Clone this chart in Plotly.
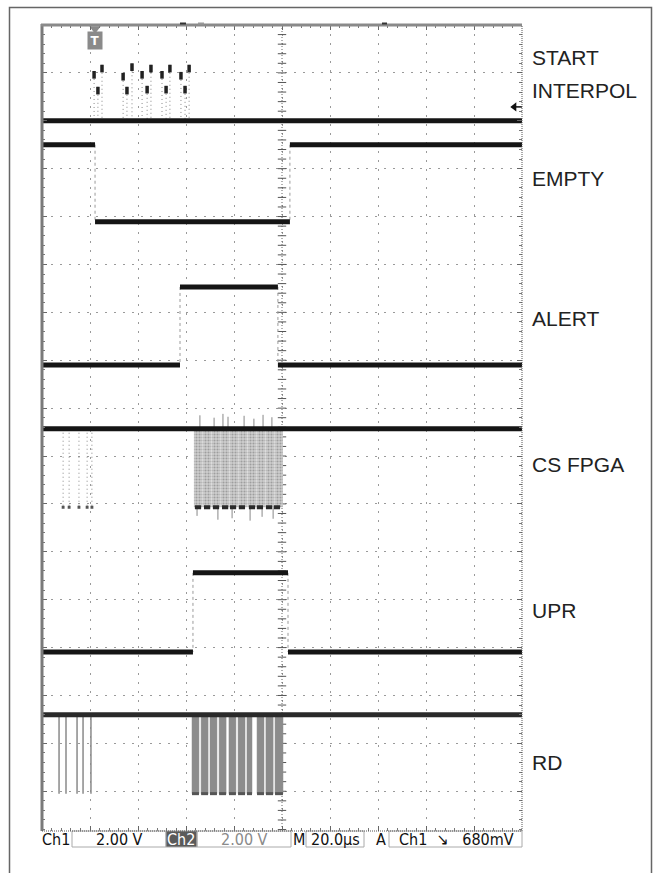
import numpy as np
import plotly.graph_objects as go

W, H = 658, 873

# screen: 10 div x 20 us, vertical position in divisions counted from the top edge
T_MAX = 200.0
Y_BOTTOM = 16.83

# right hand labels and their vertical pixel positions
LABELS = ["START", "INTERPOL", "EMPTY", "ALERT", "CS FPGA", "UPR", "RD"]
LABEL_Y_PX = [58, 91, 179, 318, 464, 610, 762]

# logic levels (div from top)
START_BASE = 2.0
EMPTY_HI, EMPTY_LO = 2.50, 4.11
ALERT_HI, ALERT_LO = 5.47, 7.10
CS_HI, CS_LO = 8.43, 10.07
UPR_HI, UPR_LO = 11.44, 13.09
RD_HI, RD_LO = 14.40, 16.05

# transition times (us)
EMPTY_EDGES = [22.1, 103.3]   # high -> low -> high
ALERT_EDGES = [57.5, 98.3]    # low -> high -> low
UPR_EDGES = [62.9, 102.5]     # low -> high -> low

# START INTERPOL bursts
START_LEFT_T = [21.7, 33.8, 41.7, 50.0, 57.9]
START_MID_T = [23.3, 35.4, 43.8, 51.7, 59.6]
START_RIGHT_T = [25.0, 37.5, 45.4, 53.3, 61.3]
START_LEFT_PEAK = [0.96, 1.00, 0.96, 0.96, 0.98]
START_MID_PEAK = [1.29, 1.29, 1.27, 1.27, 1.27]
START_RIGHT_PEAK = [0.83, 0.80, 0.83, 0.83, 0.83]

# CS FPGA
CS_SPARSE_T = [8.8, 11.3, 15.4, 18.8, 20.8]
CS_BURST_START = [63.3, 67.1, 70.8, 74.6, 78.3, 82.1, 85.8, 89.6, 93.3, 97.1]
CS_BURST_END = [66.9, 70.6, 74.4, 78.1, 81.9, 85.6, 89.4, 93.1, 96.9, 100.4]
CS_LOW_T = [65.0, 68.8, 72.5, 76.3, 79.6, 83.3, 87.5, 90.8, 94.6, 97.9]
CS_SPIKE_T = [65.8, 71.7, 75.4, 77.5, 84.2, 88.3, 92.1, 95.8]
CS_SPIKE_TOP = [8.15, 8.20, 8.12, 8.18, 8.16, 8.22, 8.14, 8.19]
CS_DIP_T = [64.6, 73.3, 79.2, 86.7, 91.7, 96.3]
CS_DIP_BOT = [10.25, 10.33, 10.30, 10.35, 10.27, 10.31]

# RD
RD_SPARSE_T = [7.1, 10.0, 14.6, 17.1, 20.4]
RD_BURST_START = [62.5, 66.3, 70.0, 73.8, 77.9, 81.7, 85.4, 89.6, 93.3, 97.1]
RD_BURST_END = [65.4, 69.2, 72.9, 76.7, 80.8, 84.6, 87.5, 92.5, 96.3, 100.4]

TRIGGER_T = 22.1
TRIGGER_LEVEL = 1.71

TRACE = "#151515"
FAINT = "#9a9a9a"


def px_x(p):
    return p / W


def px_y(p):
    return 1 - p / H


def level_path(edges, a, b):
    x = [0, edges[0], None, edges[0], edges[1], None, edges[1], T_MAX]
    y = [a, a, None, b, b, None, a, a]
    return x, y


def vsegs(ts, y0, y1):
    x, y = [], []
    for i, t in enumerate(ts):
        a = y0[i] if isinstance(y0, list) else y0
        b = y1[i] if isinstance(y1, list) else y1
        x += [t, t, None]
        y += [a, b, None]
    return x, y


def hsegs(t0, t1, lvl):
    x, y = [], []
    for a, b in zip(t0, t1):
        x += [a, b, None]
        y += [lvl, lvl, None]
    return x, y


def boxes(t0, t1, top, bot):
    x, y = [], []
    for a, b in zip(t0, t1):
        x += [a, b, b, a, a, None]
        y += [top, top, bot, bot, top, None]
    return x, y


fig = go.Figure()


def line(x, y, color=TRACE, width=5, dash=None):
    fig.add_trace(go.Scatter(x=x, y=y, mode="lines", hoverinfo="skip",
                             line=dict(color=color, width=width, dash=dash)))


# centre graticule line with ticks
line([100, 100], [0, Y_BOTTOM], "#666", 1, "1px,2px")
cy = np.arange(0.2, Y_BOTTOM, 0.2)
fig.add_trace(go.Scatter(x=[100] * len(cy), y=cy, mode="markers", hoverinfo="skip",
                         marker=dict(symbol="line-ew", size=6, line=dict(color="#555", width=1))))

# ---- faint edges / bursts
for edges, a, b in [(EMPTY_EDGES, EMPTY_HI, EMPTY_LO), (ALERT_EDGES, ALERT_HI, ALERT_LO),
                    (UPR_EDGES, UPR_HI, UPR_LO)]:
    x, y = vsegs(edges, a, b)
    line(x, y, FAINT, 1, "dot")

# START INTERPOL bursts
for ts, pk in [(START_LEFT_T, START_LEFT_PEAK), (START_MID_T, START_MID_PEAK),
               (START_RIGHT_T, START_RIGHT_PEAK)]:
    x, y = vsegs(ts, pk, START_BASE)
    line(x, y, "#888", 1, "1px,3px")
    x, y = vsegs(ts, pk, [p + 0.16 for p in pk])
    line(x, y, "#222", 3.5)

# CS FPGA
x, y = vsegs(CS_SPARSE_T, CS_HI, CS_LO)
line(x, y, "#888", 1, "1px,3px")
x, y = hsegs([t - 0.6 for t in CS_SPARSE_T], [t + 0.6 for t in CS_SPARSE_T], CS_LO)
line(x, y, "#555", 3)
x, y = boxes(CS_BURST_START, CS_BURST_END, CS_HI, CS_LO)
fig.add_trace(go.Scatter(x=x, y=y, mode="lines", fill="toself", hoverinfo="skip",
                         line=dict(width=0, color="rgba(0,0,0,0)"),
                         fillcolor="rgba(170,170,170,0.55)",
                         fillpattern=dict(shape=".", fgcolor="#6e6e6e", bgcolor="#cfcfcf",
                                          size=3, solidity=0.4)))
x, y = vsegs(CS_SPIKE_T, CS_HI, CS_SPIKE_TOP)
line(x, y, "#888", 1)
x, y = vsegs(CS_DIP_T, CS_LO, CS_DIP_BOT)
line(x, y, "#888", 1)
x, y = hsegs([t - 1.3 for t in CS_LOW_T], [t + 1.3 for t in CS_LOW_T], CS_LO)
line(x, y, "#2a2a2a", 4)

# RD
x, y = vsegs(RD_SPARSE_T, RD_HI, RD_LO)
line(x, y, "#8a8a8a", 1.5)
x, y = boxes(RD_BURST_START, RD_BURST_END, RD_HI, RD_LO)
fig.add_trace(go.Scatter(x=x, y=y, mode="lines", fill="toself", hoverinfo="skip",
                         line=dict(width=0.5, color="#8c8c8c"), fillcolor="#8c8c8c"))
x, y = hsegs(RD_BURST_START, RD_BURST_END, RD_LO)
line(x, y, "#555", 3)

# ---- logic level traces
line([0, T_MAX], [START_BASE, START_BASE])
x, y = level_path(EMPTY_EDGES, EMPTY_HI, EMPTY_LO)
line(x, y)
x, y = level_path(ALERT_EDGES, ALERT_LO, ALERT_HI)
line(x, y)
line([0, T_MAX], [CS_HI, CS_HI])
x, y = level_path(UPR_EDGES, UPR_LO, UPR_HI)
line(x, y)
line([0, T_MAX], [RD_HI, RD_HI], "#2a2a2a")

# trigger position and level markers
fig.add_trace(go.Scatter(x=[TRIGGER_T], y=[0.08], mode="markers", hoverinfo="skip",
                         marker=dict(symbol="triangle-down", size=10, color="#8a8a8a")))
fig.add_annotation(x=TRIGGER_T, y=0.33, text="<b>T</b>", showarrow=False,
                   bgcolor="#8a8a8a", width=12, height=15,
                   font=dict(color="white", size=12, family="DejaVu Sans"))
fig.add_trace(go.Scatter(x=[196.8], y=[TRIGGER_LEVEL], mode="markers", hoverinfo="skip",
                         marker=dict(symbol="triangle-left", size=8, color="#111")))
line([196.8, T_MAX], [TRIGGER_LEVEL, TRIGGER_LEVEL], "#111", 1.5)

# ---- right hand labels
for txt, py in zip(LABELS, LABEL_Y_PX):
    fig.add_annotation(x=px_x(530), y=px_y(py), xref="paper", yref="paper",
                       text=txt, showarrow=False, xanchor="left", yanchor="middle",
                       font=dict(family="Liberation Sans, Arial", size=21, color="#222"))

# ---- status bar
SB_TOP, SB_BOT, SB_MID = 831, 847, 839
status_font = "DejaVu Sans Condensed, Liberation Sans Narrow, Arial"
shapes = []
for x0, x1, fill in [(72, 166, None), (166, 197, "#5a5a5a"), (197, 291, None),
                     (306, 364, None), (389, 522, None)]:
    shapes.append(dict(type="rect", xref="paper", yref="paper",
                       x0=px_x(x0), x1=px_x(x1), y0=px_y(SB_BOT), y1=px_y(SB_TOP),
                       line=dict(color="#aaa", width=1),
                       fillcolor=fill if fill else "rgba(0,0,0,0)"))
for txt, cx, col in [("Ch1", 56, "#111"), ("2.00 V", 119, "#111"), ("Ch2", 181, "white"),
                     ("2.00 V", 244, "#8a8a8a"), ("M", 299, "#111"), ("20.0µs", 335, "#111"),
                     ("A", 381, "#111"), ("Ch1  \u2198   680mV", 456, "#111")]:
    fig.add_annotation(x=px_x(cx), y=px_y(SB_MID), xref="paper", yref="paper",
                       text=txt, showarrow=False, xanchor="center", yanchor="middle",
                       font=dict(family=status_font, size=16, color=col))

# graticule borders, record-view marks and outer frame
shapes += [
    dict(type="line", xref="paper", yref="paper", x0=px_x(42), x1=px_x(42),
         y0=px_y(831), y1=px_y(24), line=dict(color="#7a7a7a", width=3)),
    dict(type="line", xref="paper", yref="paper", x0=px_x(41), x1=px_x(522),
         y0=px_y(25), y1=px_y(25), line=dict(color="#8a8a8a", width=3)),
    dict(type="line", xref="paper", yref="paper", x0=px_x(522), x1=px_x(522),
         y0=px_y(831), y1=px_y(25), line=dict(color="#555", width=1, dash="1px,1px")),
    dict(type="line", xref="paper", yref="paper", x0=px_x(42), x1=px_x(522),
         y0=px_y(831), y1=px_y(831), line=dict(color="#555", width=1, dash="1px,1px")),
    dict(type="line", xref="paper", yref="paper", x0=px_x(180), x1=px_x(186),
         y0=px_y(23.5), y1=px_y(23.5), line=dict(color="#333", width=2)),
    dict(type="line", xref="paper", yref="paper", x0=px_x(198), x1=px_x(204),
         y0=px_y(23.5), y1=px_y(23.5), line=dict(color="#999", width=2)),
    dict(type="line", xref="paper", yref="paper", x0=px_x(382), x1=px_x(387),
         y0=px_y(23.5), y1=px_y(23.5), line=dict(color="#333", width=2)),
    dict(type="rect", xref="paper", yref="paper", x0=px_x(9.5), x1=px_x(651.5),
         y0=-0.05, y1=px_y(7.5), line=dict(color="#666", width=1.5)),
]

axis_common = dict(showticklabels=False, zeroline=False, showline=False,
                   ticks="inside", mirror="allticks", tickcolor="#666", ticklen=5,
                   showgrid=True, gridcolor="#9a9a9a", griddash="2px,7px", gridwidth=1)
fig.update_layout(
    width=W, height=H, margin=dict(l=0, r=0, t=0, b=0),
    paper_bgcolor="white", plot_bgcolor="white", showlegend=False,
    xaxis=dict(domain=[px_x(42), px_x(522)], range=[0, T_MAX], dtick=20, tick0=0,
               minor=dict(dtick=4, ticks="inside", ticklen=3, tickcolor="#777", showgrid=False),
               **axis_common),
    yaxis=dict(domain=[px_y(831), px_y(25)], range=[Y_BOTTOM, 0], dtick=1, tick0=0,
               minor=dict(dtick=0.2, ticks="inside", ticklen=3, tickcolor="#777", showgrid=False),
               **axis_common),
    shapes=shapes,
)

# the page body has a default 8px margin; drop it so the figure sits at the window origin
fig.write_html("out.html", config={"displayModeBar": False},
               post_script="document.body.style.margin='0';")
